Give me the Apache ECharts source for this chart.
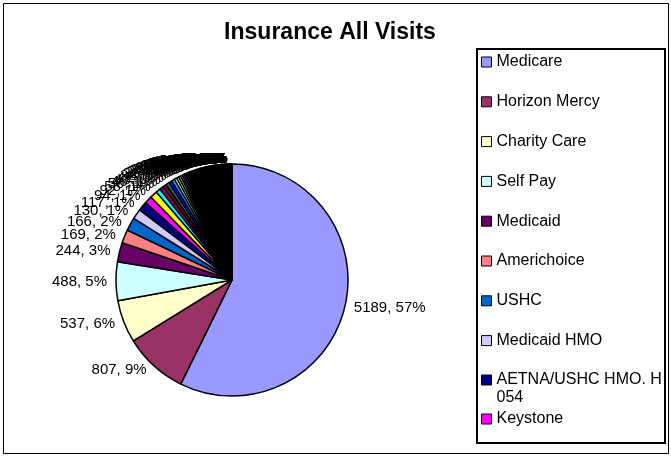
<!DOCTYPE html>
<html>
<head>
<meta charset="utf-8">
<script src="https://cdn.jsdelivr.net/npm/echarts@6/dist/echarts.min.js"></script>
<style>
  html, body { margin: 0; padding: 0; background: #fff; }
  #chart { width: 671px; height: 457px; }
</style>
</head>
<body>
<div id="chart"></div>
<script>
// ---- data ----
const mainPayers = ['Medicare', 'Horizon Mercy', 'Charity Care', 'Self Pay', 'Medicaid',
  'Americhoice', 'USHC', 'Medicaid HMO', 'AETNA/USHC HMO. H054', 'Keystone'];
const mainVisits = [5189, 807, 537, 488, 244, 169, 166, 130, 117, 94];

// many small payers (not named in the legend of the reference)
const smallVisits = [92, 58, 50, 46, 43, 42, 38, 32, 29, 27, 25, 23, 22, 21, 20, 19, 18, 17, 16, 15, 15, 14,
  14, 14, 13, 13, 13, 12, 12, 12, 11, 11, 11, 11, 10, 10, 10, 10, 10, 9, 9, 9, 9, 9, 9,
  8, 8, 8, 8, 8, 8, 7, 7, 7, 7, 7, 7, 6, 6, 6, 6, 6, 5, 5, 5, 5, 5, 4, 4, 4, 4, 3, 3, 3, 3,
  2, 2, 2, 2, 1, 1, 1];
const smallPayers = smallVisits.map((v, i) => 'Other payer ' + (i + 1));

// the reference legend only shows the first ten payers
const legendTop = mainPayers.slice(0, 8);
const legendAetna = ['AETNA/USHC HMO. H054'];
const legendLast = ['Keystone'];

const excelPalette = ['#9999FF','#993366','#FFFFCC','#CCFFFF','#660066','#FF8080','#0066CC','#CCCCFF',
  '#000080','#FF00FF','#FFFF00','#00FFFF','#800080','#800000','#008080','#0000FF',
  '#00CCFF','#CCFFFF','#CCFFCC','#FFFF99','#99CCFF','#FF99CC','#CC99FF','#FFCC99',
  '#3366FF','#33CCCC','#99CC00','#FFCC00','#FF9900','#FF6600','#666699','#969696',
  '#003366','#339966','#003300','#333300','#993300','#993366','#333399','#333333',
  '#000000','#FFFFFF','#FF0000','#00FF00','#0000FF','#FFFF00','#FF00FF','#00FFFF',
  '#800000','#008000','#000080','#808000','#800080','#008080','#C0C0C0','#808080'];

// ---- build ----
const names = mainPayers.concat(smallPayers);
const values = mainVisits.concat(smallVisits);
const total = values.reduce((a, b) => a + b, 0);
const pieData = names.map((n, i) => ({ name: n, value: values[i] }));

const chart = echarts.init(document.getElementById('chart'), null, { renderer: 'canvas' });
const FONT = 'Arial, "Liberation Sans", sans-serif';

const legendText = { fontSize: 16, lineHeight: 18, color: '#000', fontFamily: FONT };
const legendBase = {
  orient: 'vertical', left: 481, padding: 0, itemGap: 21.8,
  itemWidth: 10, itemHeight: 10, icon: 'rect', selectedMode: false,
  itemStyle: { borderColor: '#000', borderWidth: 1 },
  textStyle: legendText
};

chart.setOption({
  animation: false,
  backgroundColor: '#fff',
  color: excelPalette,
  graphic: [
    { type: 'rect', shape: { x: 3.5, y: 3.5, width: 665, height: 450 },
      style: { fill: 'none', stroke: '#000', lineWidth: 1 }, silent: true },
    { type: 'rect', shape: { x: 477, y: 49, width: 188, height: 394 },
      style: { fill: 'none', stroke: '#000', lineWidth: 2 }, silent: true },
    { type: 'text', x: 330, y: 33,
      style: { text: 'Insurance All Visits', font: 'bold 23px ' + FONT, fill: '#000',
        textAlign: 'center', textVerticalAlign: 'middle' }, silent: true }
  ],
  legend: [
    Object.assign({}, legendBase, { top: 53, data: legendTop }),
    Object.assign({}, legendBase, {
      top: 353, data: legendAetna,
      formatter: function () { return ' \nAETNA/USHC HMO. H\n054'; }
    }),
    Object.assign({}, legendBase, { top: 410, data: legendLast })
  ],
  series: [{
    type: 'pie',
    center: [232, 280],
    radius: 116,
    startAngle: 90,
    clockwise: true,
    avoidLabelOverlap: false,
    emphasis: { disabled: true },
    labelLayout: { hideOverlap: false },
    itemStyle: { borderColor: '#000', borderWidth: 1.5 },
    label: {
      show: true, position: 'outside', color: '#000', fontSize: 15, fontFamily: FONT,
      distanceToLabelLine: 4,
      formatter: function (p) {
        return p.value + ', ' + Math.round(p.value / total * 100) + '%';
      }
    },
    labelLine: { show: false, length: 5, length2: 0 },
    data: pieData
  }]
});
</script>
</body>
</html>
